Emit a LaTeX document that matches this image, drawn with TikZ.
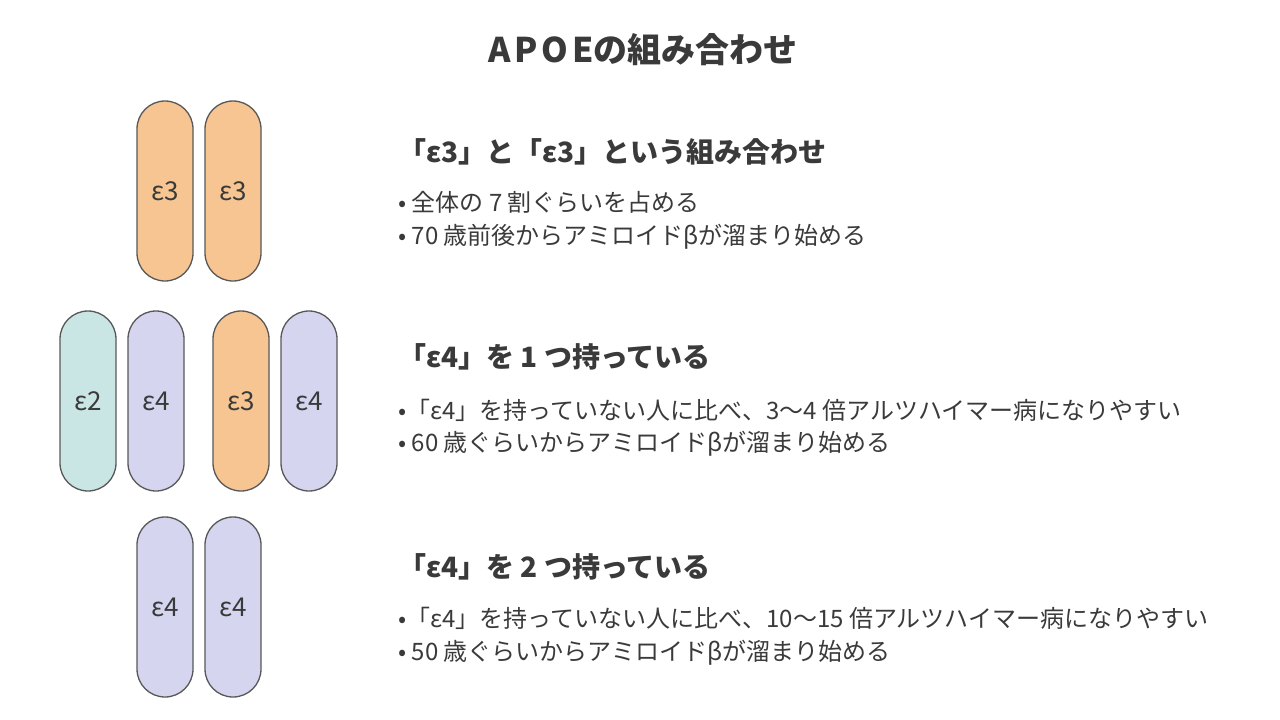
\documentclass[tikz,border=0pt]{standalone}
\usepackage{fontspec}
\setmainfont{Noto Sans CJK JP}
\usetikzlibrary{positioning}
\definecolor{ink}{HTML}{3A3A3A}
\definecolor{eorange}{HTML}{F7C592}
\definecolor{eteal}{HTML}{CAE6E4}
\definecolor{epurple}{HTML}{D5D5F0}
\tikzset{pill/.style={rounded corners=28, draw=ink!85, line width=1.3pt, minimum width=56, minimum height=180, inner sep=0pt, text=ink, font=\fontsize{26}{30}\selectfont}}
\tikzset{head/.style={anchor=west, text=ink, font=\fontsize{28}{32}\selectfont\bfseries, inner sep=0pt}}
\tikzset{item/.style={anchor=west, text=ink, font=\fontsize{24}{28}\selectfont, inner sep=0pt}}

\begin{document}
\begin{tikzpicture}[x=1pt,y=-1pt]
		\useasboundingbox (0,0) rectangle (1280,720);
		\node[text=ink, font=\fontsize{34}{40}\selectfont\bfseries] (T) at (643,50){A\hspace{4pt}P\hspace{4pt}O\hspace{4pt}Eの組み合わせ};
		
		% epsilon3 / epsilon3
		\node[pill, fill=eorange] (A1) at (165,191){ε3};
		\node[pill, fill=eorange] (A2) at (233,191){ε3};
		\node[head] (HA) at (398,152){「ε3」と「ε3」という組み合わせ};
		\node[item] (A1t) at (398,202){• 全体の 7 割ぐらいを占める};
		\node[item] (A2t) at (398,237){• 70 歳前後からアミロイドβが溜まり始める};
		
		% one epsilon4
		\node[pill, fill=eteal] (B1) at (88,401){ε2};
		\node[pill, fill=epurple] (B2) at (156,401){ε4};
		\node[pill, fill=eorange] (B3) at (241,401){ε3};
		\node[pill, fill=epurple] (B4) at (309,401){ε4};
		\node[head] (HB) at (398,357){「ε4」を 1 つ持っている};
		\node[item] (B1t) at (398,410){•「ε4」を持っていない人に比べ、3〜4 倍アルツハイマー病になりやすい};
		\node[item] (B2t) at (398,444){• 60 歳ぐらいからアミロイドβが溜まり始める};
		
		% two epsilon4
		\node[pill, fill=epurple] (C1) at (165,607){ε4};
		\node[pill, fill=epurple] (C2) at (233,607){ε4};
		\node[head] (HC) at (398,567){「ε4」を 2 つ持っている};
		\node[item] (C1t) at (398,618){•「ε4」を持っていない人に比べ、10〜15 倍アルツハイマー病になりやすい};
		\node[item] (C2t) at (398,653){• 50 歳ぐらいからアミロイドβが溜まり始める};
	\end{tikzpicture}
\end{document}
